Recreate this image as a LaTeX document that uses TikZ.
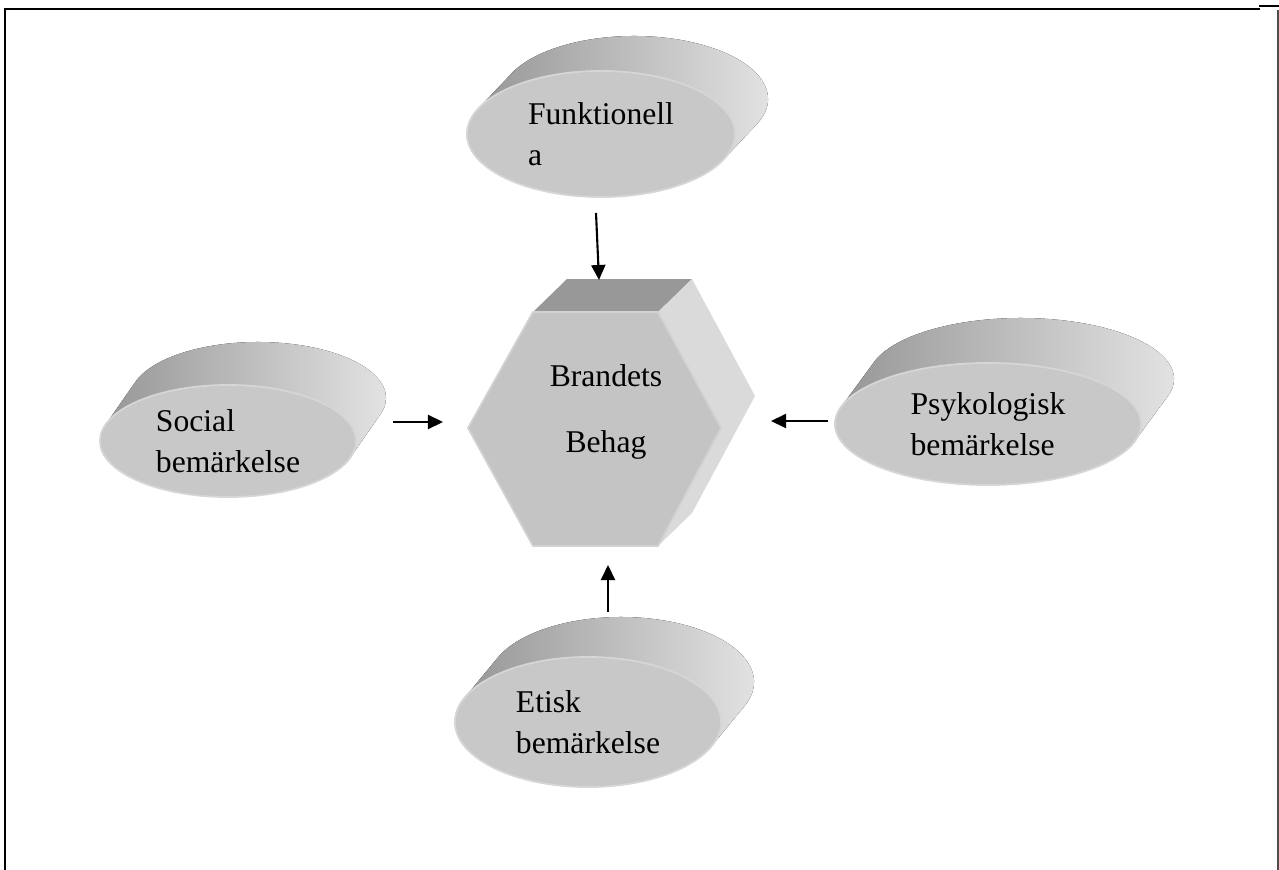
\documentclass[tikz,border=0pt]{standalone}
\usepackage{fontspec}
\setmainfont{Liberation Serif}
\usetikzlibrary{shapes.geometric,arrows.meta,calc}

\definecolor{discfront}{HTML}{C8C8C8}
\definecolor{discrim}{HTML}{D6D6D6}
\definecolor{discdark}{HTML}{979797}
\definecolor{disclight}{HTML}{E6E6E6}
\definecolor{hexfront}{HTML}{C4C4C4}
\definecolor{hexrim}{HTML}{D2D2D2}
\definecolor{hextop}{HTML}{989898}
\definecolor{hexside}{HTML}{DADADA}

\begin{document}
\begin{tikzpicture}[x=0.01cm,y=-0.01cm,
    disc/.style={ellipse,fill=discfront,draw=discrim,line width=0.5pt,inner sep=0pt,align=left,font=\fontsize{9}{11.5}\selectfont},
    pointer/.style={-{Triangle[length=0.15cm,width=0.14cm]},line width=0.6pt}]
      \useasboundingbox (0,0) rectangle (1279,870);

      % frame
      \draw[line width=0.6pt] (5,870) -- (5,9) -- (1260,9);
      \draw[line width=0.6pt] (1259,6) -- (1279,6);
      \draw[line width=0.6pt,black!70] (1278,10) -- (1278,870);

      % the back side of the discs
      \foreach \x/\y/\rx/\ry/\dx/\dy in {601/134/134/63/33/-35, 228/441/128/56/30/-43, 988/424/153/61/33/-45, 588/722/133/65/33/-40}{
        \pgfmathsetmacro\ta{atan(-\ry*\dx/(\rx*\dy))}
        \fill[left color=discdark,right color=disclight] ($(\x,\y)+({\rx*cos(\ta)},{\ry*sin(\ta)})$) -- ++(\dx,\dy)
          arc[start angle=\ta,end angle=\ta-180,x radius=\rx,y radius=\ry] -- ++(-\dx,-\dy) -- cycle;
      }

      \node[disc,minimum width=2.68cm,minimum height=1.26cm] (funk) at (601,134) {Funktionell\\a};
      \node[disc,minimum width=2.56cm,minimum height=1.12cm] (social) at (228,441) {Social\\bemärkelse};
      \node[disc,minimum width=3.06cm,minimum height=1.22cm] (psyk) at (988,424) {Psykologisk\\bemärkelse};
      \node[disc,minimum width=2.66cm,minimum height=1.30cm] (etisk) at (588,722) {Etisk\\bemärkelse};

      % hexagon
      \fill[hextop] (533,312) -- (567,279) -- (692,279) -- (658,312) -- cycle;
      \fill[hexside] (658,312) -- (692,279) -- (755,396) -- (692,513) -- (658,546) -- (721,428) -- cycle;
      \filldraw[fill=hexfront,draw=hexrim,line width=0.5pt] (533,312) -- (658,312) -- (721,428) -- (658,546) -- (533,546) -- (468,428) -- cycle;
      \node[align=center,font=\fontsize{9}{19}\selectfont] (brand) at (606,412) {Brandets\\Behag};

      \coordinate (funkout) at (596,213);
      \coordinate (brandn) at (599,280);
      \coordinate (socialout) at (393,422);
      \coordinate (brandw) at (443,422);
      \coordinate (psykout) at (828,421);
      \coordinate (brande) at (771,421);
      \coordinate (etiskout) at (608,612);
      \coordinate (brands) at (608,565);

      \draw[pointer] (funkout) -- (brandn);
      \draw[pointer] (socialout) -- (brandw);
      \draw[pointer] (psykout) -- (brande);
      \draw[pointer] (etiskout) -- (brands);
    \end{tikzpicture}
\end{document}
